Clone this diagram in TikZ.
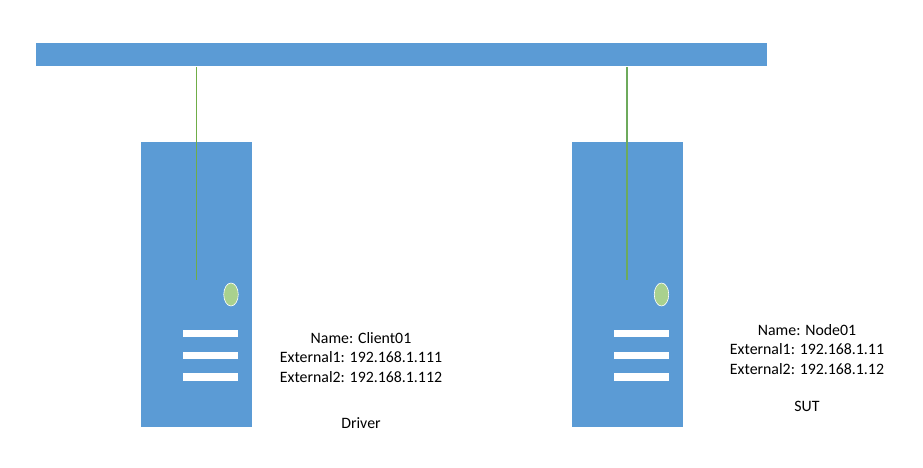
\documentclass[tikz,border=0pt]{standalone}
\usepackage{fontspec}
\setmainfont{Carlito}
\definecolor{blueb}{HTML}{5B9BD5}
\definecolor{greenl}{HTML}{70AD47}
\definecolor{greenf}{HTML}{A9D18E}
\tikzset{
  x=1pt,y=-1pt,
  boxblue/.style={fill=blueb,draw=none,minimum width=0pt,minimum height=0pt,inner sep=0pt,outer sep=0pt,rectangle},
  whitebar/.style={fill=white,draw=none,inner sep=0pt,outer sep=0pt,minimum width=55pt,minimum height=7.5pt,rectangle},
  led/.style={ellipse,fill=greenf,draw=white,line width=0.6pt,minimum width=14.5pt,minimum height=23pt,inner sep=0pt},
  link/.style={draw=greenl,line width=0.9pt},
  lbl/.style={font=\fontsize{15.85pt}{19.3pt}\selectfont,align=center,inner sep=0pt,text=black}
}
\usetikzlibrary{shapes.geometric}
\begin{document}
\begin{tikzpicture}
\useasboundingbox (0,0) rectangle (923,468);
\node[boxblue,minimum width=731pt,minimum height=23pt] (bar) at (401.5,54.5) {};
\node[boxblue,minimum width=111pt,minimum height=285pt] (srvA) at (196.5,284.5) {};
\node[boxblue,minimum width=111pt,minimum height=285pt] (srvB) at (627.5,284.5) {};
\node[led] (ledA) at (231,294.5) {};
\node[led] (ledB) at (661.5,294.5) {};
\node[whitebar] (a1) at (210.5,333.7) {};
\node[whitebar] (a2) at (210.5,355.5) {};
\node[whitebar] (a3) at (210.5,377.2) {};
\node[whitebar] (b1) at (641.5,333.7) {};
\node[whitebar] (b2) at (641.5,355.5) {};
\node[whitebar] (b3) at (641.5,377.2) {};
\coordinate (topA) at (196.5,67);
\coordinate (endA) at (196.5,279.5);
\coordinate (topB) at (627,67);
\coordinate (endB) at (627,279.5);
\draw[link] (topA) -- (endA);
\draw[link,line width=1.3pt,draw=greenl!85!blueb] (topB) -- (endB);
\node[lbl] (infoA) at (361,357.5) {Name: Client01\\External1: 192.168.1.111\\External2: 192.168.1.112};
\node[lbl] (infoB) at (807,349.5) {Name: Node01\\External1: 192.168.1.11\\External2: 192.168.1.12};
\node[lbl] (drv) at (361,423) {Driver};
\node[lbl] (sut) at (807,406) {SUT};
\end{tikzpicture}
\end{document}
